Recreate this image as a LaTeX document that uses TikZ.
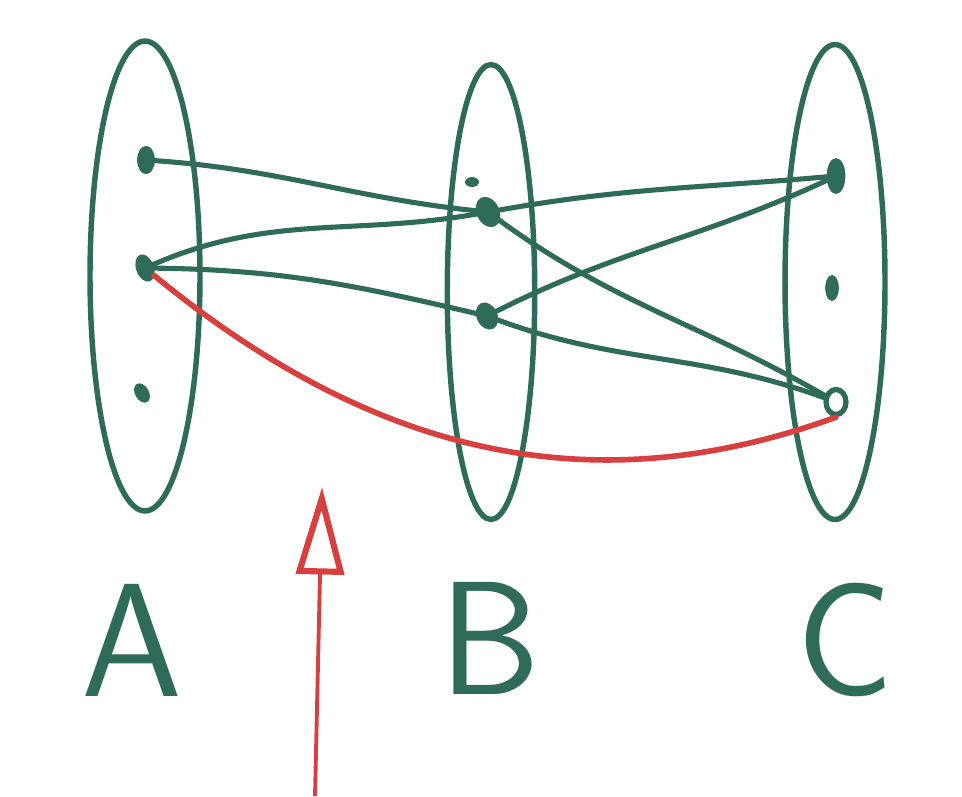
\documentclass[tikz,border=0pt]{standalone}
\usepackage{fontspec}
\usetikzlibrary{shapes.geometric,arrows.meta}
\definecolor{pen}{HTML}{2F6B5B}
\definecolor{redpen}{HTML}{D8403F}
\begin{document}
\begin{tikzpicture}[x=0.02cm,y=-0.02cm,
  setoval/.style={draw=pen,line width=3.1pt,ellipse,inner sep=0pt},
  pt/.style={ellipse,fill=pen,draw=pen,inner sep=0pt,minimum width=0.34cm,minimum height=0.55cm},
  smallpt/.style={ellipse,fill=pen,inner sep=0pt,minimum width=0.28cm,minimum height=0.2cm},
  edge/.style={draw=pen,line width=2.9pt,line cap=round},
  rededge/.style={draw=redpen,line width=3.2pt,line cap=round},
  lbl/.style={text=pen,font=\sffamily\fontsize{92}{92}\selectfont}]
\useasboundingbox (0,0) rectangle (962,796);
% sets
\node[setoval,minimum width=2.2cm,minimum height=9.4cm] (SA) at (145,276) {};
\node[setoval,minimum width=1.75cm,minimum height=9.1cm] (SB) at (491,292) {};
\node[setoval,minimum width=2.0cm,minimum height=9.5cm] (SC) at (835,282) {};
% points
\node[pt] (a1) at (146,160) {};
\node[pt,rotate=20] (a2) at (145,268) {};
\node[pt,minimum width=0.26cm,minimum height=0.4cm,rotate=30] (a3) at (142,393) {};
\node[smallpt] (b0) at (472,182) {};
\node[pt,minimum width=0.44cm,minimum height=0.62cm,rotate=25] (b1) at (488,212) {};
\node[pt,minimum width=0.4cm,minimum height=0.55cm,rotate=25] (b2) at (487,316) {};
\node[pt,minimum width=0.36cm,minimum height=0.7cm] (c1) at (836,176) {};
\node[pt,minimum width=0.26cm,minimum height=0.5cm] (c2) at (832,288) {};
\node[pt,fill=none,line width=3pt,minimum width=0.4cm,minimum height=0.5cm] (c3) at (836,402) {};
% green edges
\draw[edge] (a1) to[out=-4,in=172] (b1);
\draw[edge] (a2) to[out=22,in=188] (b1);
\draw[edge] (a2) to[out=-2,in=165] (b2);
\draw[edge] (b1) to[out=8,in=185] (c1);
\draw[edge] (b2) to[out=25,in=205] (c1);
\draw[edge] (b1) to[out=-38,in=150] (c3);
\draw[edge] (b2) to[out=-22,in=160] (c3);
% red path
\draw[rededge] (a2) to[out=-40,in=200] (c3.south);
% red arrow
\coordinate (arrowbase) at (315,796);
\coordinate (arrowtip) at (322,487);
\draw[redpen,line width=2.2pt,-{Triangle[open,length=1.75cm,width=0.95cm,line width=3.5pt]}] (arrowbase) -- (arrowtip);
% labels
\node[lbl] (LA) at (132,640) {A};
\node[lbl] (LB) at (490,638) {B};
\node[lbl] (LC) at (845,640) {C};
\end{tikzpicture}
\end{document}
